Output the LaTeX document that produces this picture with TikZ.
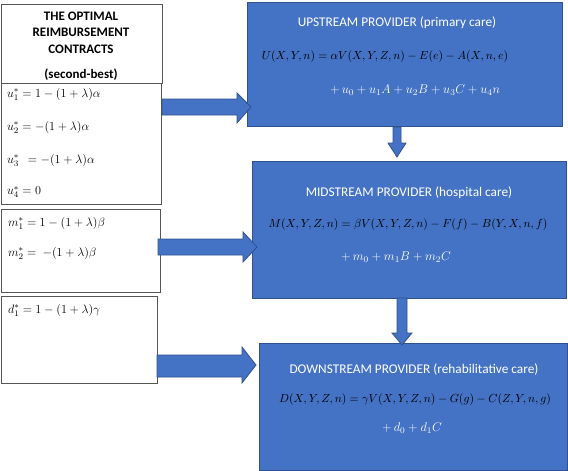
\documentclass[tikz,border=0pt]{standalone}
\usepackage{fix-cm}
\usepackage{fontspec}
\setmainfont{Carlito}
\definecolor{boxblue}{HTML}{4472C4}
\definecolor{edgeblue}{HTML}{2F528F}
\definecolor{edgegray}{HTML}{555555}
\begin{document}
\begin{tikzpicture}[x=1pt,y=-1pt,
  lbox/.style={draw=edgegray, line width=0.9pt, fill=white, anchor=north west, inner sep=0pt},
  pbox/.style={draw=edgeblue, line width=0.9pt, fill=boxblue, anchor=north west, inner sep=0pt},
  blockarrow/.style={draw=edgeblue, line width=0.8pt, fill=boxblue, line join=miter},
  ptitle/.style={text=white, font=\fontsize{13.3}{16}\selectfont, inner sep=0pt},
  eqk/.style={text=black, font=\fontsize{11.7}{16}\selectfont, inner sep=0pt},
  eqw/.style={text=white, font=\fontsize{12.6}{16}\selectfont, inner sep=0pt},
  leq/.style={text=black, font=\fontsize{12.2}{15}\selectfont, inner sep=0pt, anchor=west}
]
\useasboundingbox (0,0) rectangle (568,471);
% left boxes
\node[lbox, minimum width=161pt, minimum height=79pt] (tbox) at (1,4) {};
\node[lbox, minimum width=160pt, minimum height=121pt] (ubox) at (1,83) {};
\node[lbox, minimum width=159pt, minimum height=83pt] (mbox) at (1,209) {};
\node[lbox, minimum width=156pt, minimum height=87pt] (dbox) at (1,296) {};
% provider boxes
\node[pbox, minimum width=315pt, minimum height=124pt] (up) at (247,2) {};
\node[pbox, minimum width=314pt, minimum height=137pt] (mid) at (252,161) {};
\node[pbox, minimum width=308pt, minimum height=127pt] (down) at (259,343) {};
% block arrows
\draw[blockarrow] (162,99) -- (237,99) -- (237,93) -- (251,107) -- (237,123) -- (237,115) -- (162,115) -- cycle;
\draw[blockarrow] (158,239) -- (243,239) -- (243,232) -- (257,247) -- (243,262) -- (243,255) -- (158,255) -- cycle;
\draw[blockarrow] (157,355) -- (242,355) -- (242,347) -- (256,365) -- (242,383) -- (242,377) -- (157,377) -- cycle;
\draw[blockarrow] (393,127) -- (393,143) -- (388,143) -- (397,157) -- (406,143) -- (401,143) -- (401,127) -- cycle;
\draw[blockarrow] (397,298) -- (397,333) -- (392,333) -- (402,345) -- (412,333) -- (407,333) -- (407,298) -- cycle;
% left texts
\node[font=\bfseries\fontsize{13}{16.5}\selectfont, align=center, inner sep=0pt] (ttl) at (81,46) {THE OPTIMAL\\REIMBURSEMENT\\CONTRACTS\\[9pt](second-best)};
\node[leq] (u1) at (7,94) {$u_1^*=1-(1+\lambda)\alpha$};
\node[leq] (u2) at (7,127) {$u_2^*=-(1+\lambda)\alpha$};
\node[leq] (u3) at (7,160) {$u_3^*\ \ =-(1+\lambda)\alpha$};
\node[leq] (u4) at (7,192) {$u_4^*=0$};
\node[leq] (m1) at (8,223) {$m_1^*=1-(1+\lambda)\beta$};
\node[leq] (m2) at (8,253) {$m_2^*=\ -(1+\lambda)\beta$};
\node[leq] (d1) at (8,310) {$d_1^*=1-(1+\lambda)\gamma$};
% provider texts
\node[ptitle] (upt) at (397,23) {UPSTREAM PROVIDER (primary care)};
\node[eqk] (upe) at (385,57) {$U(X,Y,n)=\alpha V(X,Y,Z,n)-E(e)-A(X,n,e)$};
\node[eqw] (upp) at (415,90) {$+\,u_0+u_1A+u_2B+u_3C+u_4n$};
\node[ptitle] (midt) at (409,193) {MIDSTREAM PROVIDER (hospital care)};
\node[eqk] (mide) at (408,225) {$M(X,Y,Z,n)=\beta V(X,Y,Z,n)-F(f)-B(Y,X,n,f)$};
\node[eqw] (midp) at (396,257) {$+\,m_0+m_1B+m_2C$};
\node[ptitle] (downt) at (414,370) {DOWNSTREAM PROVIDER (rehabilitative care)};
\node[eqk] (downe) at (415,400) {$D(X,Y,Z,n)=\gamma V(X,Y,Z,n)-G(g)-C(Z,Y,n,g)$};
\node[eqw] (downp) at (412,428) {$+\,d_0+d_1C$};
\end{tikzpicture}
\end{document}
